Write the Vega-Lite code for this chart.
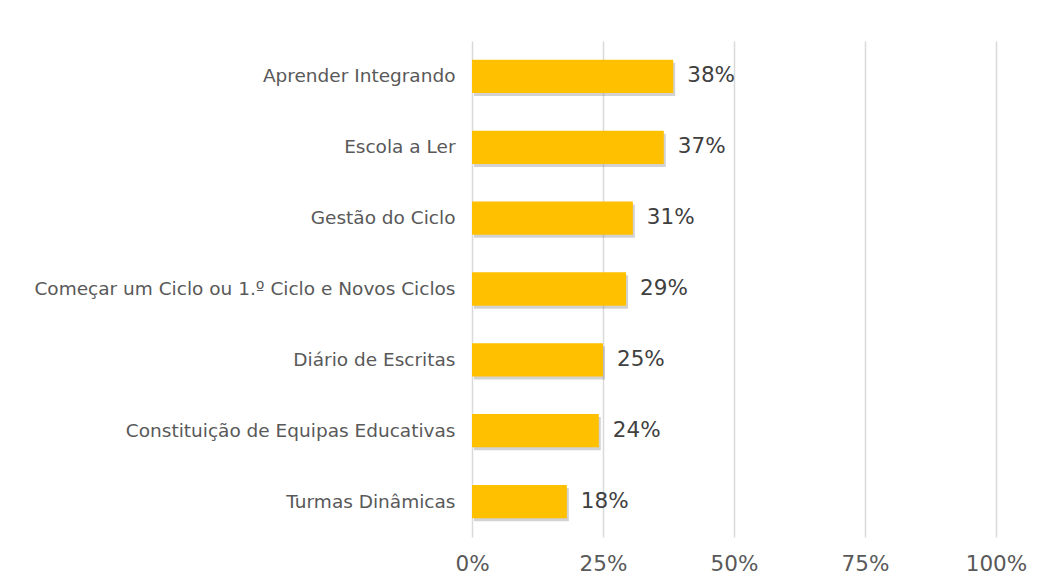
{
  "$schema": "https://vega.github.io/schema/vega-lite/v6.json",
  "width": 524,
  "height": 496,
  "autosize": {"type": "none"},
  "padding": {"left": 472, "top": 41, "right": 50, "bottom": 51},
  "background": "white",
  "config": {
    "view": {"stroke": null},
    "font": "DejaVu Sans"
  },
  "data": {
    "values": [
      {"programa": "Aprender Integrando", "valor": 0.384},
      {"programa": "Escola a Ler", "valor": 0.366},
      {"programa": "Gestão do Ciclo", "valor": 0.307},
      {"programa": "Começar um Ciclo ou 1.º Ciclo e Novos Ciclos", "valor": 0.294},
      {"programa": "Diário de Escritas", "valor": 0.25},
      {"programa": "Constituição de Equipas Educativas", "valor": 0.242},
      {"programa": "Turmas Dinâmicas", "valor": 0.181}
    ]
  },
  "encoding": {
    "y": {
      "field": "programa",
      "type": "nominal",
      "sort": null,
      "scale": {"paddingInner": 0.53, "paddingOuter": 0.265},
      "axis": {
        "title": null,
        "domain": false,
        "ticks": false,
        "labelFontSize": 18.5,
        "labelColor": "#595959",
        "labelPadding": 17,
        "labelLimit": 470
      }
    },
    "x": {
      "field": "valor",
      "type": "quantitative",
      "scale": {"domain": [0, 1], "nice": false},
      "axis": {
        "title": null,
        "values": [0, 0.25, 0.5, 0.75, 1],
        "format": ".0%",
        "domain": false,
        "ticks": false,
        "grid": true,
        "gridColor": "#d9d9d9",
        "gridWidth": 1.5,
        "labelFontSize": 21.5,
        "labelColor": "#595959",
        "labelPadding": 16,
        "labelFlush": false
      }
    }
  },
  "layer": [
    {
      "mark": {"type": "bar", "color": "#7f7f7f", "opacity": 0.35, "xOffset": 2, "yOffset": 3}
    },
    {
      "mark": {"type": "bar", "color": "#FFC000"}
    },
    {
      "mark": {"type": "text", "align": "left", "dx": 14, "fontSize": 21.5, "color": "#404040"},
      "encoding": {
        "text": {"field": "valor", "type": "quantitative", "format": ".0%"}
      }
    }
  ]
}
